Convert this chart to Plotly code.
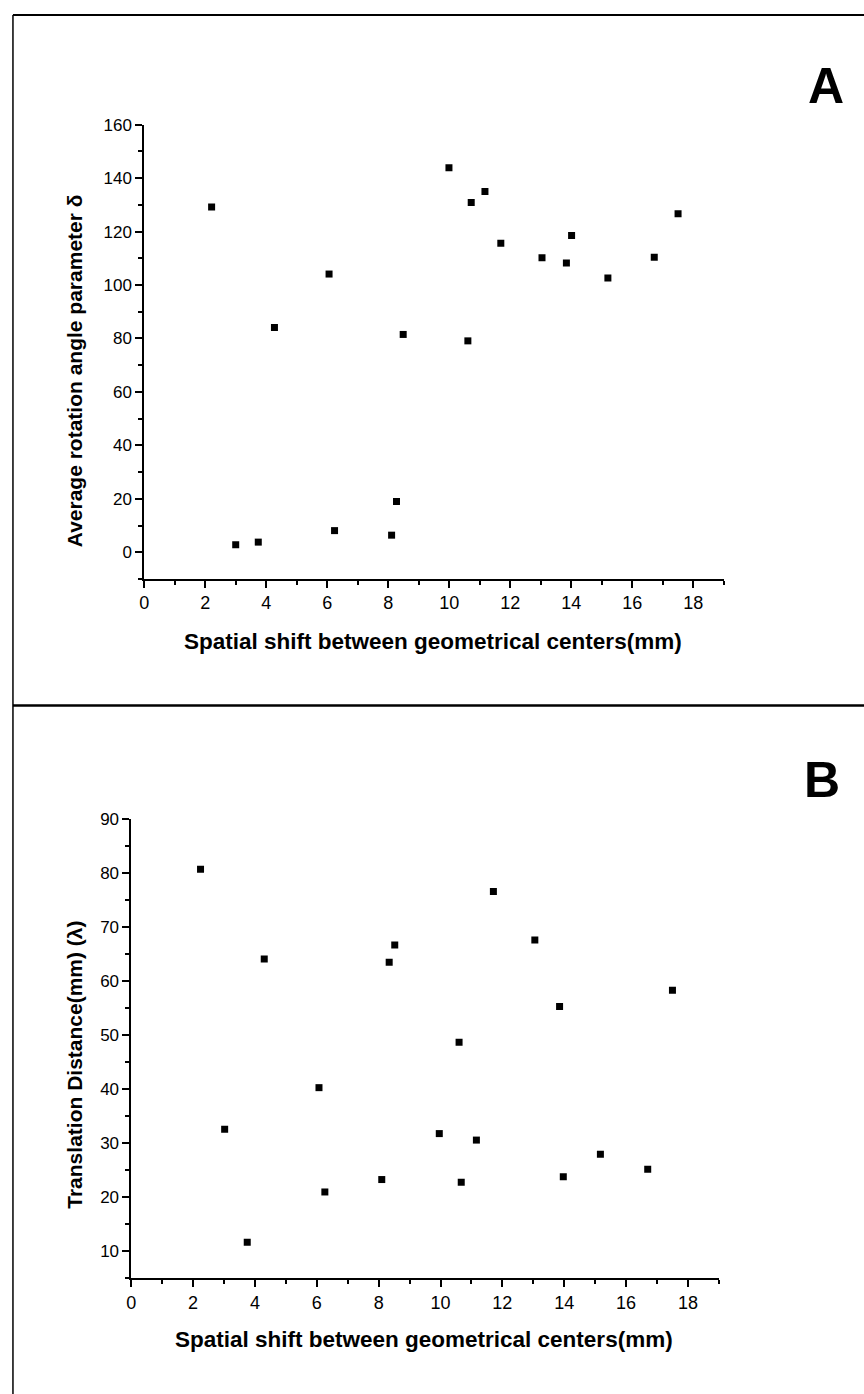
import plotly.graph_objects as go

W, H = 864, 1394

# ---- data ----
shift_a = [2.21, 3.00, 3.74, 4.27, 6.06, 6.24, 8.11, 8.27, 8.49, 9.99,
           10.61, 10.72, 11.17, 11.69, 13.04, 13.84, 14.01, 15.20, 16.72, 17.50]
rotation_a = [129.2, 2.8, 3.8, 84.1, 104.1, 8.1, 6.4, 19.0, 81.5, 143.9,
              79.1, 130.9, 135.0, 115.6, 110.2, 108.2, 118.5, 102.6, 110.4, 126.7]

shift_b = [2.24, 3.02, 3.75, 4.30, 6.07, 6.26, 8.10, 8.34, 8.52, 9.96,
           10.60, 10.67, 11.16, 11.71, 13.05, 13.85, 13.97, 15.17, 16.70, 17.50]
translation_b = [80.7, 32.6, 11.7, 64.1, 40.3, 21.0, 23.3, 63.5, 66.7, 31.8,
                 48.7, 22.8, 30.6, 76.6, 67.6, 55.3, 23.8, 28.0, 25.2, 58.3]

x_title = "Spatial shift between geometrical centers(mm)"
y_title_a = "Average rotation angle parameter δ"
y_title_b = "Translation Distance(mm) (λ)"


def px(x):
    return x / W


def py(y):
    return 1 - y / H


NARROW = "Liberation Sans Narrow, Arial Narrow, Liberation Sans, Arial, sans-serif"
SANS = "Liberation Sans, Arial, sans-serif"

fig = go.Figure()
fig.add_trace(go.Scatter(x=shift_a, y=rotation_a, mode="markers",
                         marker=dict(symbol="square", size=7, color="black"),
                         xaxis="x", yaxis="y", showlegend=False))
fig.add_trace(go.Scatter(x=shift_b, y=translation_b, mode="markers",
                         marker=dict(symbol="square", size=7, color="black"),
                         xaxis="x2", yaxis="y2", showlegend=False))

common = dict(showgrid=False, zeroline=False, showline=True, linecolor="black",
              linewidth=1.6, ticks="outside", ticklen=7, tickwidth=1.5,
              tickcolor="black")

xcommon = dict(common, range=[0, 19], tickmode="array",
               tickvals=list(range(0, 19, 2)),
               tickfont=dict(family=NARROW, size=18, color="black"),
               minor=dict(tickmode="array", tickvals=list(range(1, 20, 2)),
                          ticks="outside", ticklen=4, tickwidth=1.5,
                          tickcolor="black", showgrid=False))

fig.update_layout(
    width=W, height=H,
    margin=dict(l=0, r=0, t=0, b=0),
    paper_bgcolor="white", plot_bgcolor="white",
    xaxis=dict(xcommon, domain=[px(140), px(723)], anchor="y"),
    yaxis=dict(common, domain=[py(573.7), py(116.4)], anchor="x",
               range=[-10, 160], tickvals=list(range(0, 161, 20)),
               tickfont=dict(family=SANS, size=17, color="black"),
               minor=dict(tickvals=list(range(-10, 161, 20)), ticks="outside",
                          ticklen=4, tickwidth=1.5, tickcolor="black",
                          showgrid=False)),
    xaxis2=dict(xcommon, domain=[px(127), px(718)], anchor="y2"),
    yaxis2=dict(common, domain=[py(1277.7), py(815.3)], anchor="x2",
                range=[5, 90], tickvals=list(range(10, 91, 10)),
                tickfont=dict(family=SANS, size=17, color="black"),
                minor=dict(tickvals=list(range(5, 91, 10)), ticks="outside",
                           ticklen=4, tickwidth=1.5, tickcolor="black",
                           showgrid=False)),
)

annotations = [
    dict(text=x_title, x=px(430), y=py(637), font=dict(family=NARROW, size=22.5, color="black")),
    dict(text=x_title, x=px(421), y=py(1339), font=dict(family=NARROW, size=22.5, color="black")),
    dict(text=y_title_a, x=px(70), y=py(364), textangle=-90,
         font=dict(family=SANS, size=21, color="black")),
    dict(text=y_title_b, x=px(70), y=py(1063), textangle=-90,
         font=dict(family=SANS, size=21, color="black")),
    dict(text="A", x=px(826), y=py(77), font=dict(family=SANS, size=50, color="black")),
    dict(text="B", x=px(822), y=py(776), font=dict(family=SANS, size=50, color="black")),
]
for a in annotations:
    a.update(xref="paper", yref="paper", showarrow=False, xanchor="center", yanchor="middle")
    a["text"] = "<b>" + a["text"] + "</b>"
fig.update_layout(annotations=annotations)

shapes = [
    dict(type="line", x0=px(8), x1=px(8), y0=py(6), y1=0, line=dict(color="black", width=1.5)),
    dict(type="line", x0=px(8), x1=1, y0=py(6), y1=py(6), line=dict(color="black", width=2)),
    dict(type="line", x0=px(8), x1=1, y0=py(701), y1=py(701), line=dict(color="black", width=2.5)),
]
for s in shapes:
    s.update(xref="paper", yref="paper")
fig.update_layout(shapes=shapes)

fig.write_html("out.html")
